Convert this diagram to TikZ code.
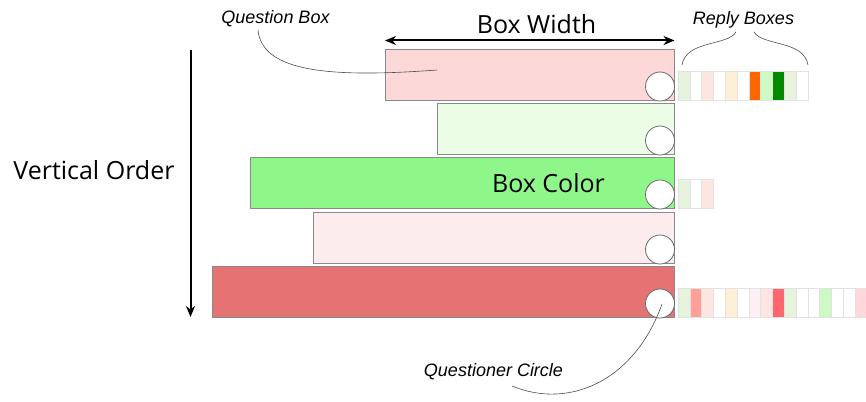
\documentclass[tikz,border=0pt]{standalone}
\usepackage{fontspec}
\setmainfont{Open Sans}
\newfontfamily\lblfont{Liberation Sans}
\usetikzlibrary{arrows.meta}
\definecolor{boxgray}{HTML}{8A8A8A}
\definecolor{circgray}{HTML}{6A6A6A}
\definecolor{replygray}{HTML}{E2E2E2}
\definecolor{qone}{HTML}{FDD8D8}
\definecolor{qtwo}{HTML}{EBFDE4}
\definecolor{qthree}{HTML}{8FF78A}
\definecolor{qfour}{HTML}{FDECEE}
\definecolor{qfive}{HTML}{E57373}
\definecolor{rlg}{HTML}{E8F3DE}
\definecolor{rlp}{HTML}{FDE5E2}
\definecolor{rly}{HTML}{FDF0D7}
\definecolor{ror}{HTML}{FF6600}
\definecolor{rbg}{HTML}{CDFAC2}
\definecolor{rdg}{HTML}{008A00}
\definecolor{rsal}{HTML}{FF9F97}
\definecolor{rvp}{HTML}{FDEFF3}
\definecolor{rred}{HTML}{FF6670}
\definecolor{rpk}{HTML}{FFD8DC}
\begin{document}
\begin{tikzpicture}[x=1pt,y=-1pt,
 qbox/.style={draw=boxgray, line width=0.8pt, inner sep=0pt, minimum height=51pt, anchor=south east},
 qcirc/.style={circle, draw=circgray, fill=white, line width=0.8pt, minimum size=29pt, inner sep=0pt},
 rbox/.style={draw=replygray, line width=0.7pt, inner sep=0pt, minimum width=11.8pt, minimum height=29pt, anchor=south west},
 biglbl/.style={font=\fontsize{25}{30}\selectfont, inner sep=0pt, anchor=base},
 itlbl/.style={font=\lblfont\itshape\fontsize{18}{22}\selectfont, inner sep=0pt, anchor=base},
 pointer/.style={draw=black!70, line width=0.6pt},
 bigarrow/.style={line width=2pt, {Stealth[length=11pt,width=9pt]}-{Stealth[length=11pt,width=9pt]}},
 downarrow/.style={line width=2pt, -{Stealth[length=11pt,width=9pt]}}
]
\useasboundingbox (0,0) rectangle (866,401);
% question boxes
\node[qbox, fill=qone,   minimum width=289pt] (q1) at (674.5,101) {};
\node[qbox, fill=qtwo,   minimum width=237pt] (q2) at (674.5,155) {};
\node[qbox, fill=qthree, minimum width=424pt] (q3) at (674.5,209) {};
\node[qbox, fill=qfour,  minimum width=361pt] (q4) at (674.5,264) {};
\node[qbox, fill=qfive,  minimum width=462pt] (q5) at (674.5,318) {};
% questioner circles
\node[qcirc] (c1) at (660,86.5) {};
\node[qcirc] (c2) at (660,140.5) {};
\node[qcirc] (c3) at (660,194.5) {};
\node[qcirc] (c4) at (660,249.5) {};
\node[qcirc] (c5) at (660,303.5) {};
% reply boxes
\foreach \c [count=\i] in {rlg,white,rlp,white,rly,white,ror,rbg,rdg,rlg,white}
  \node[rbox, fill=\c] (ra\i) at ({677.7+(\i-1)*11.8},101) {};
\foreach \c [count=\i] in {rlg,white,rlp}
  \node[rbox, fill=\c] (rb\i) at ({677.7+(\i-1)*11.8},209) {};
\foreach \c [count=\i] in {rlg,rsal,rlp,white,rly,white,rvp,rlp,rred,rlg,white,white,rbg,white,white,rpk}
  \node[rbox, fill=\c] (rc\i) at ({677.7+(\i-1)*11.8},317.5) {};
% labels
\node[biglbl] (bw) at (536.5,34) {Box Width};
\node[biglbl] (vo) at (94,179) {Vertical Order};
\node[biglbl] (bc) at (548.5,192) {Box Color};
\node[itlbl] (ql) at (275.5,24) {Question Box};
\node[itlbl] (rl) at (743.5,25) {Reply Boxes};
\node[itlbl] (cl) at (493.5,376) {Questioner Circle};
% arrows
\coordinate (bwl) at (385,40.5);
\coordinate (bwr) at (674.5,40.5);
\draw[bigarrow] (bwl) -- (bwr);
\coordinate (vot) at (190.5,50);
\coordinate (vob) at (190.5,317);
\draw[downarrow] (vot) -- (vob);
% pointers
\coordinate (qp) at (437,70);
\coordinate (qs) at (258,30);
\draw[pointer] (qs) .. controls (262,72) and (330,78) .. (qp);
\coordinate (rls) at (682,65);
\coordinate (rle) at (736,32);
\draw[pointer] (rls) .. controls (686,40) and (728,46) .. (rle);
\coordinate (rrs) at (754,32);
\coordinate (rre) at (808,65);
\draw[pointer] (rrs) .. controls (762,46) and (804,40) .. (rre);
\coordinate (cp) at (662,304);
\coordinate (cs) at (512,386);
\draw[pointer] (cp) .. controls (635,380) and (570,410) .. (cs);
\end{tikzpicture}
\end{document}
